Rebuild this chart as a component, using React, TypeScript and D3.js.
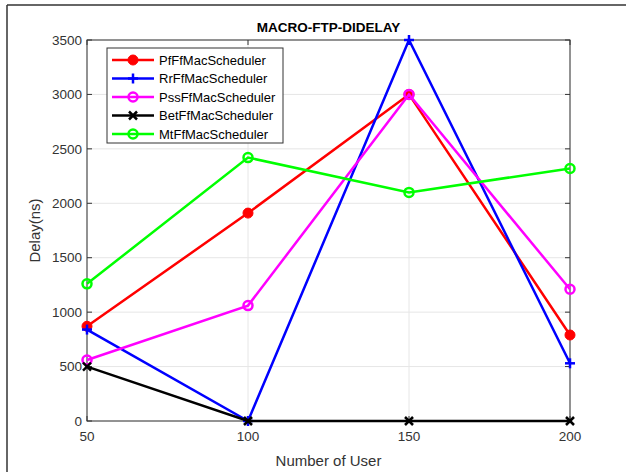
import React from "react";
import * as d3 from "d3";

const users = [50, 100, 150, 200];
const pf = [870, 1910, 3000, 790];
const rr = [840, 0, 3500, 530];
const pss = [560, 1060, 3000, 1210];
const bet = [500, 0, 0, 0];
const mt = [1260, 2420, 2100, 2320];
const yTicks = [0, 500, 1000, 1500, 2000, 2500, 3000, 3500];
const xTicks = [50, 100, 150, 200];

const seriesNames = ["PfFfMacScheduler", "RrFfMacScheduler", "PssFfMacScheduler", "BetFfMacScheduler", "MtFfMacScheduler"];
const seriesValues = [pf, rr, pss, bet, mt];
const seriesColors = ["#ff0000", "#0000ff", "#ff00ff", "#000000", "#00ff00"];
const seriesMarkers = ["dot", "plus", "circle", "x", "circle"];

const W = 626, H = 472;
const L = 87, R = 570, T = 40, B = 421;
const FONT = "'Liberation Sans', Arial, sans-serif";

function Marker({ type, x, y, color }: { type: string; x: number; y: number; color: string }) {
  if (type === "dot") return <circle cx={x} cy={y} r={5} fill={color} stroke={color} strokeWidth={1} />;
  if (type === "circle") return <circle cx={x} cy={y} r={4.5} fill="none" stroke={color} strokeWidth={2.5} />;
  if (type === "plus")
    return (
      <g stroke={color} strokeWidth={2.5}>
        <line x1={x - 5} y1={y} x2={x + 5} y2={y} />
        <line x1={x} y1={y - 5} x2={x} y2={y + 5} />
      </g>
    );
  return (
    <g stroke={color} strokeWidth={2.5}>
      <line x1={x - 4} y1={y - 4} x2={x + 4} y2={y + 4} />
      <line x1={x - 4} y1={y + 4} x2={x + 4} y2={y - 4} />
    </g>
  );
}

export default function App() {
  const x = d3.scaleLinear().domain([50, 200]).range([L, R]);
  const y = d3.scaleLinear().domain([0, 3500]).range([B, T]);
  const line = d3.line<number>().x((_, i) => x(users[i])).y((d) => y(d));

  return (
    <svg width={W} height={H} style={{ position: "absolute", left: 0, top: 0, background: "#fff" }} fontFamily={FONT}>
      <rect x={0} y={0} width={W} height={H} fill="#fff" />
      {/* outer frame */}
      <line x1={7} y1={5} x2={W} y2={5} stroke="#333" strokeWidth={1.5} />
      <line x1={7} y1={5} x2={7} y2={H} stroke="#333" strokeWidth={1.5} />

      {/* grid */}
      {yTicks.map((t) => (
        <line key={"gy" + t} x1={L} x2={R} y1={y(t)} y2={y(t)} stroke="#e6e6e6" strokeWidth={1} />
      ))}
      {xTicks.map((t) => (
        <line key={"gx" + t} x1={x(t)} x2={x(t)} y1={T} y2={B} stroke="#e6e6e6" strokeWidth={1} />
      ))}

      {/* ticks */}
      {yTicks.map((t) => (
        <g key={"ty" + t} stroke="#333" strokeWidth={1}>
          <line x1={L} x2={L + 5} y1={y(t)} y2={y(t)} />
          <line x1={R} x2={R - 5} y1={y(t)} y2={y(t)} />
        </g>
      ))}
      {xTicks.map((t) => (
        <g key={"tx" + t} stroke="#333" strokeWidth={1}>
          <line x1={x(t)} x2={x(t)} y1={B} y2={B - 5} />
          <line x1={x(t)} x2={x(t)} y1={T} y2={T + 5} />
        </g>
      ))}

      {/* axis box */}
      <rect x={L} y={T} width={R - L} height={B - T} fill="none" stroke="#333" strokeWidth={1} />

      {/* tick labels */}
      {yTicks.map((t) => (
        <text key={"ly" + t} x={L - 5} y={y(t)} dy="0.35em" textAnchor="end" fontSize={13.5} fill="#333">
          {t}
        </text>
      ))}
      {xTicks.map((t) => (
        <text key={"lx" + t} x={x(t)} y={B + 20} textAnchor="middle" fontSize={13.5} fill="#333">
          {t}
        </text>
      ))}

      {/* titles */}
      <text x={(L + R) / 2} y={32} textAnchor="middle" fontSize={13.5} fontWeight="bold" fill="#000">
        MACRO-FTP-DIDELAY
      </text>
      <text x={(L + R) / 2} y={466} textAnchor="middle" fontSize={15} fill="#333">
        Number of User
      </text>
      <text transform={`translate(40,${(T + B) / 2}) rotate(-90)`} textAnchor="middle" fontSize={15} fill="#333">
        Delay(ns)
      </text>

      {/* series */}
      {seriesValues.map((vals, si) => (
        <g key={"s" + si}>
          <path d={line(vals) || ""} fill="none" stroke={seriesColors[si]} strokeWidth={2.5} />
          {vals.map((v, i) => (
            <Marker key={i} type={seriesMarkers[si]} x={x(users[i])} y={y(v)} color={seriesColors[si]} />
          ))}
        </g>
      ))}

      {/* legend */}
      <rect x={107} y={48} width={176} height={95} fill="#fff" stroke="#333" strokeWidth={1} />
      {seriesNames.map((n, i) => {
        const ly = 60 + i * 18.5;
        return (
          <g key={"lg" + i}>
            <line x1={112} x2={154} y1={ly} y2={ly} stroke={seriesColors[i]} strokeWidth={2.5} />
            <Marker type={seriesMarkers[i]} x={133} y={ly} color={seriesColors[i]} />
            <text x={159} y={ly} dy="0.35em" fontSize={13} fill="#000">
              {n}
            </text>
          </g>
        );
      })}
    </svg>
  );
}
